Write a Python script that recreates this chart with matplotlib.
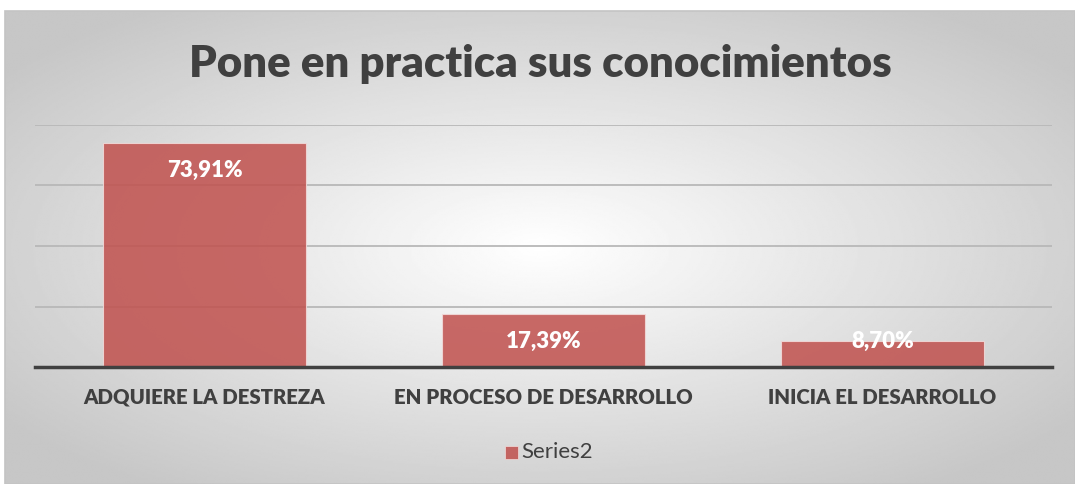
import numpy as np
import matplotlib
matplotlib.use('Agg')
import matplotlib.pyplot as plt
from matplotlib.patches import Rectangle

plt.rcParams['font.family'] = ['Lato', 'DejaVu Sans']

categorias = ['ADQUIERE LA DESTREZA', 'EN PROCESO DE DESARROLLO', 'INICIA EL DESARROLLO']
valores = [73.91, 17.39, 8.70]
etiquetas = ['73,91%', '17,39%', '8,70%']
titulo = 'Pone en practica sus conocimientos'
serie = 'Series2'

W, H = 1075, 484
fig = plt.figure(figsize=(W / 100, H / 100), dpi=100)

# fondo con degradado radial (area del grafico)
bg = fig.add_axes([5 / W, 0, 1 - 5 / W, 1 - 11 / H])
yy, xx = np.mgrid[0:1:300j, 0:1:600j]
r = np.sqrt(((xx - 0.5) / 0.62) ** 2 + ((yy - 0.5) / 0.62) ** 2)
r = np.clip(r, 0, 1)
gris = 1.0 - 0.22 * r
bg.imshow(gris, cmap='gray', vmin=0, vmax=1, aspect='auto', extent=[0, 1, 0, 1], interpolation='bilinear')
bg.set_axis_off()
fig.patches.append(Rectangle((5 / W, 0), 1 - 5 / W, 1 - 11 / H, transform=fig.transFigure,
                             fill=False, edgecolor='#c4c4c4', linewidth=1.2, zorder=0))

ax = fig.add_axes([35 / W, (H - 367) / H, (1052 - 35) / W, (367 - 125) / H])
ax.patch.set_alpha(0)
x = np.arange(len(categorias))
ax.bar(x, valores, width=0.6, color='#c0504d', alpha=0.85, edgecolor='#f2dcdb', linewidth=0.8, zorder=3)
ax.set_xlim(-0.5, 2.5)
ax.set_ylim(0, 80)
ax.set_yticks([20, 40, 60, 80])
ax.yaxis.grid(True, color='#b8b8b8', linewidth=1.3, zorder=1)
ax.tick_params(axis='y', left=False, labelleft=False)
ax.tick_params(axis='x', length=0, pad=15)
ax.set_xticks(x)
ax.set_xticklabels(categorias, fontsize=14.7, fontweight='heavy', color='#404040')
for s in ['top', 'right', 'left']:
    ax.spines[s].set_visible(False)
ax.spines['bottom'].set_color('#404040')
ax.spines['bottom'].set_linewidth(2.5)
ax.spines['bottom'].set_zorder(4)

for i, v in enumerate(valores):
    ax.text(i, max(v - 9, 8.3), etiquetas[i], ha='center', va='center',
            fontsize=16, fontweight='heavy', color='white', zorder=5)

fig.text(540 / W, 1 - 64 / H, titulo, ha='center', va='center',
         fontsize=31.5, fontweight='heavy', color='#404040')

# leyenda
fig.patches.append(Rectangle((505 / W, 1 - 459 / H), 13 / W, 13 / H, transform=fig.transFigure,
                             facecolor='#c0504d', alpha=0.85, edgecolor='#f2dcdb', linewidth=0.6))
fig.text(521 / W, 1 - 452 / H, serie, ha='left', va='center', fontsize=16, color='#404040')

fig.savefig('out.png', dpi=100)
